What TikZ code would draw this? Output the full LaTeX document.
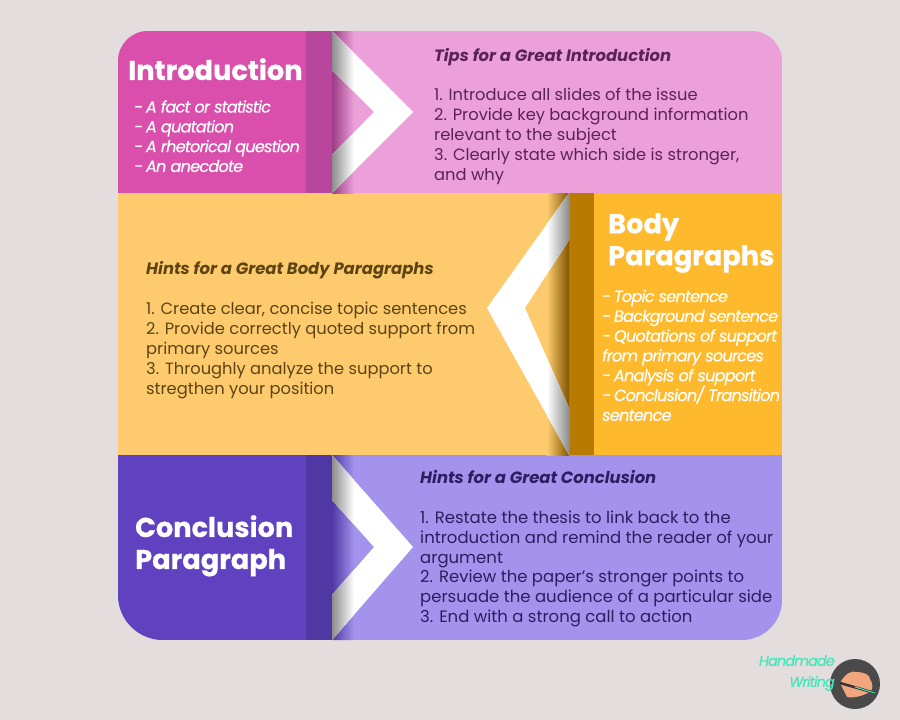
\documentclass[tikz,border=0pt]{standalone}
\usepackage{fontspec}
\setmainfont{Poppins}
\usepackage{tikz}
\definecolor{pageback}{HTML}{E3DEDD}
\definecolor{introdark}{HTML}{D94FAB}
\definecolor{introbar}{HTML}{B7469C}
\definecolor{introlight}{HTML}{ECA0DA}
\definecolor{introtext}{HTML}{5B2355}
\definecolor{bodydark}{HTML}{FEBA2C}
\definecolor{bodybar}{HTML}{B87A00}
\definecolor{bodylight}{HTML}{FDCB6E}
\definecolor{bodytext}{HTML}{5E4313}
\definecolor{concdark}{HTML}{6041BF}
\definecolor{concbar}{HTML}{4F38A3}
\definecolor{conclight}{HTML}{A393ED}
\definecolor{conctext}{HTML}{2C1E60}
\definecolor{logoteal}{HTML}{3FE8B8}
\definecolor{logoskin}{HTML}{F2A67D}
\definecolor{logodisc}{HTML}{4A4A4A}
\newcommand{\dashgap}{-\hspace{-1.2pt}}
\tikzset{
  txt/.style={anchor=north west, inner sep=0pt, align=left},
  title/.style={txt, text=white, font=\fontsize{27.2}{32}\selectfont\bfseries\addfontfeature{FakeBold=0.5}},
  points/.style={txt, text=white, font=\fontsize{16.2}{19.8}\selectfont\itshape\addfontfeature{LetterSpace=-5,FakeBold=0.3}},
  tips/.style={txt, font=\fontsize{16.3}{19.85}\selectfont},
  conctips/.style={txt, font=\fontsize{16.5}{19.7}\selectfont},
  head/.style={txt, font=\fontsize{16.4}{19.8}\selectfont\bfseries\itshape}
}
\begin{document}
\begin{tikzpicture}[x=1pt,y=-1pt]

  % Page
  \fill[pageback] (0,0) rectangle (900,720);
  \useasboundingbox (0,0) rectangle (900,720);

  % Panels
  \begin{scope}
    \clip (118,61) arc[start angle=180,end angle=270,radius=30] -- (752,31)
      arc[start angle=270,end angle=360,radius=30] -- (782,600)
      arc[start angle=0,end angle=90,radius=40] -- (163,640)
      arc[start angle=90,end angle=180,radius=45] -- cycle;

    \fill[introlight] (118,31) rectangle (782,193);
    \fill[introdark] (118,31) rectangle (306,193);
    \fill[introbar] (306,31) rectangle (332,193);
    \fill[bodylight] (118,193) rectangle (569,455);
    \fill[bodybar] (569,193) rectangle (594,455);
    \fill[bodydark] (594,193) rectangle (782,455);
    \fill[conclight] (118,455) rectangle (782,640);
    \fill[concdark] (118,455) rectangle (306,640);
    \fill[concbar] (306,455) rectangle (332,640);

    % Shadows
    \shade[left color=introbar!85!black, right color=introlight] (332,31) rectangle (354,193);
    \shade[left color=bodylight, right color=bodybar!70!black] (547,193) rectangle (569,455);
    \shade[left color=concbar, right color=conclight] (332,455) rectangle (354,640);

    % Chevrons
    \fill[white] (332,31) -- (413,112) -- (332,193) -- (332,155) -- (374,112) -- (332,70) -- cycle;
    \fill[white] (569,193) -- (487,308) -- (569,455) -- (569,408) -- (525,308) -- (569,240) -- cycle;
    \fill[white] (332,455) -- (413,547) -- (332,640) -- (332,595) -- (374,547) -- (332,500) -- cycle;
    \begin{scope}
      \clip (332,31) -- (413,112) -- (332,193) -- (332,155) -- (374,112) -- (332,70) -- cycle;
      \shade[left color=black!45, right color=white] (332,31) rectangle (354,193);
    \end{scope}
    \begin{scope}
      \clip (569,193) -- (487,308) -- (569,455) -- (569,408) -- (525,308) -- (569,240) -- cycle;
      \shade[left color=white, right color=black!45] (547,193) rectangle (569,455);
    \end{scope}
    \begin{scope}
      \clip (332,455) -- (413,547) -- (332,640) -- (332,595) -- (374,547) -- (332,500) -- cycle;
      \shade[left color=black!45, right color=white] (332,455) rectangle (354,640);
    \end{scope}
  \end{scope}

  % Introduction
  \node[title] (introtitle) at (128,58) {Introduction};
  \node[points] (introlist) at (134,100) {\dashgap{} A fact or statistic\\\dashgap{} A quatation\\\dashgap{} A rhetorical question\\\dashgap{} An anecdote};
  \node[head, text=introtext] (introhead) at (434,48) {Tips for a Great Introduction};
  \node[tips, text=introtext] (introtips) at (434,88) {1. Introduce all slides of the issue\\2. Provide key background information\\relevant to the subject\\3. Clearly state which side is stronger,\\and why};

  % Body paragraphs
  \node[title] (bodytitle) at (608,213) {Body\\Paragraphs};
  \node[points] (bodylist) at (602,289.5) {\dashgap{} Topic sentence\\\dashgap{} Background sentence\\\dashgap{} Quotations of support\\from primary sources\\\dashgap{} Analysis of support\\\dashgap{} Conclusion/ Transition\\sentence};
  \node[head, text=bodytext] (bodyhead) at (146,261) {Hints for a Great Body Paragraphs};
  \node[tips, text=bodytext] (bodytips) at (146,302) {1. Create clear, concise topic sentences\\2. Provide correctly quoted support from\\primary sources\\3. Throughly analyze the support to\\stregthen your position};

  % Conclusion
  \node[title] (conctitle) at (135,515) {Conclusion\\Paragraph};
  \node[head, text=conctext] (conchead) at (420,470) {Hints for a Great Conclusion};
  \node[conctips, text=conctext] (conctips) at (420,511) {1. Restate the thesis to link back to the\\introduction and remind the reader of your\\argument\\2. Review the paper's stronger points to\\persuade the audience of a particular side\\3. End with a strong call to action};

  % Logo
  \fill[logodisc] (855,684) circle (25);
  \fill[logoskin] (840,683) .. controls (845,674) and (851,670) .. (857,672) .. controls (864,672) and (870,675) .. (870,679) .. controls (873,684) and (873,688) .. (871,691) .. controls (862,697) and (852,698) .. (847,697) -- cycle;
  \draw[logodisc!70!black, line width=2.5pt] (840,683) -- (875,693);
  \draw[logoteal, line width=1pt] (855,687) -- (875,693);
  \node[anchor=east, inner sep=0pt, text=logoteal, align=right, font=\fontsize{14.4}{21}\selectfont\itshape\addfontfeature{LetterSpace=-6,FakeBold=0.3}] (logotext) at (835,673) {Handmade\\Writing};

\end{tikzpicture}
\end{document}
